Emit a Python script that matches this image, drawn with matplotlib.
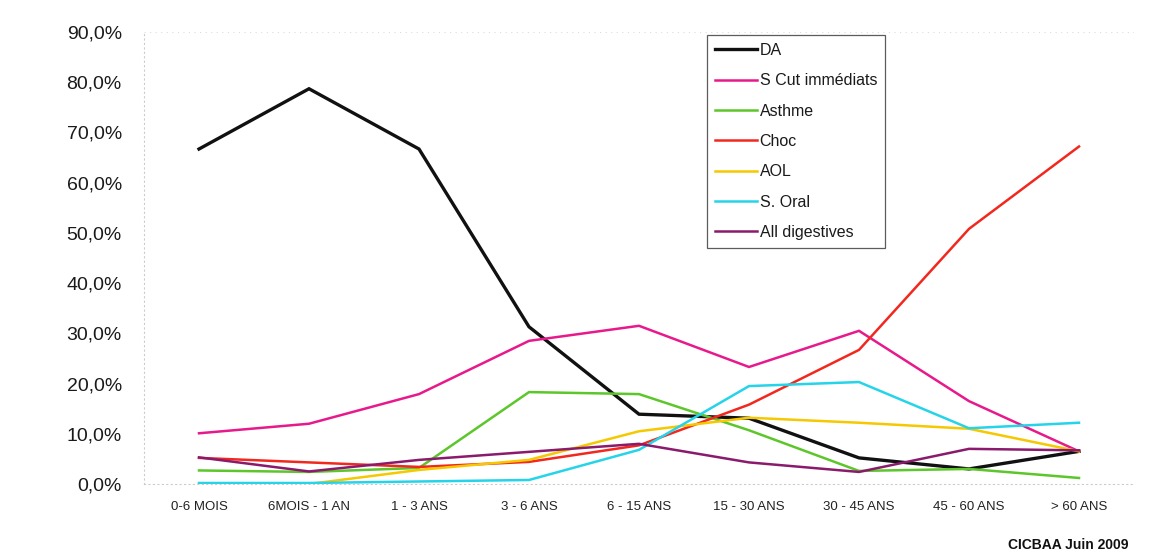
import matplotlib
matplotlib.use("Agg")
import matplotlib.pyplot as plt
from matplotlib.ticker import FuncFormatter

categories = ["0-6 MOIS", "6MOIS - 1 AN", "1 - 3 ANS", "3 - 6 ANS", "6 - 15 ANS",
              "15 - 30 ANS", "30 - 45 ANS", "45 - 60 ANS", "> 60 ANS"]

da = [66.7, 78.7, 66.7, 31.3, 13.9, 13.1, 5.2, 3.0, 6.5]
s_cut = [10.1, 12.0, 17.9, 28.5, 31.5, 23.3, 30.5, 16.5, 6.5]
asthme = [2.7, 2.4, 3.2, 18.3, 17.9, 10.7, 2.6, 3.0, 1.2]
choc = [5.2, 4.3, 3.4, 4.4, 7.7, 15.8, 26.7, 50.8, 67.2]
aol = [0.0, 0.0, 2.8, 4.8, 10.5, 13.2, 12.2, 11.0, 6.5]
s_oral = [0.2, 0.2, 0.5, 0.8, 6.8, 19.5, 20.3, 11.1, 12.2]
all_dig = [5.3, 2.5, 4.8, 6.4, 8.0, 4.3, 2.4, 7.0, 6.7]

series = [
    ("DA", da, "#111111", 2.4),
    ("S Cut immédiats", s_cut, "#e8198b", 1.8),
    ("Asthme", asthme, "#5cc62a", 1.8),
    ("Choc", choc, "#f2281e", 1.8),
    ("AOL", aol, "#f5c800", 1.8),
    ("S. Oral", s_oral, "#25d4e8", 1.8),
    ("All digestives", all_dig, "#8a1a6c", 1.8),
]

plt.rcParams['font.family'] = ['Liberation Sans', 'DejaVu Sans']

W, H = 1161, 554
fig = plt.figure(figsize=(W / 100, H / 100), dpi=100)
ax = fig.add_axes([144 / W, 1 - 484 / H, 990 / W, (484 - 32) / H])

x = list(range(len(categories)))
for name, vals, col, lw in series:
    ax.plot(x, vals, color=col, lw=lw, label=name, solid_joinstyle='miter')

ax.set_xlim(-0.5, len(categories) - 0.5)
ax.set_ylim(0, 90)
ax.set_yticks(range(0, 91, 10))
ax.yaxis.set_major_formatter(FuncFormatter(lambda v, p: f"{v:.1f}".replace(".", ",") + "%"))
ax.set_xticks(x)
ax.set_xticklabels(categories, fontsize=9.5, color="#222222")
for lab in ax.get_yticklabels():
    lab.set_fontsize(14)
    lab.set_color("#1a1a1a")
ax.tick_params(axis='y', length=0, pad=16)
ax.tick_params(axis='x', length=0, pad=12.5)

for s in ["top", "right"]:
    ax.spines[s].set_visible(False)
ax.spines["left"].set_color("#cccccc")
ax.spines["left"].set_linestyle((0, (1, 3)))
ax.spines["bottom"].set_color("#cccccc")
ax.spines["bottom"].set_linestyle((0, (1, 3)))
ax.axhline(90, color="#dddddd", lw=0.8, ls=(0, (1, 4)))

leg = ax.legend(loc="upper left", bbox_to_anchor=(707 / W, 1 - 35 / H),
                bbox_transform=fig.transFigure,
                fontsize=11.5, frameon=True, fancybox=False, handlelength=2.6,
                handletextpad=0.2, labelspacing=0.96, borderpad=0.5, borderaxespad=0)
leg.get_frame().set_edgecolor("#333333")
leg.get_frame().set_linewidth(0.9)
for t in leg.get_texts():
    t.set_color("#1a1a1a")

fig.text(1128 / W, 1 - 545 / H, "CICBAA Juin 2009", ha="right", va="center",
         fontsize=10, fontweight="bold", color="#111111")

fig.savefig("out.png", dpi=100)
